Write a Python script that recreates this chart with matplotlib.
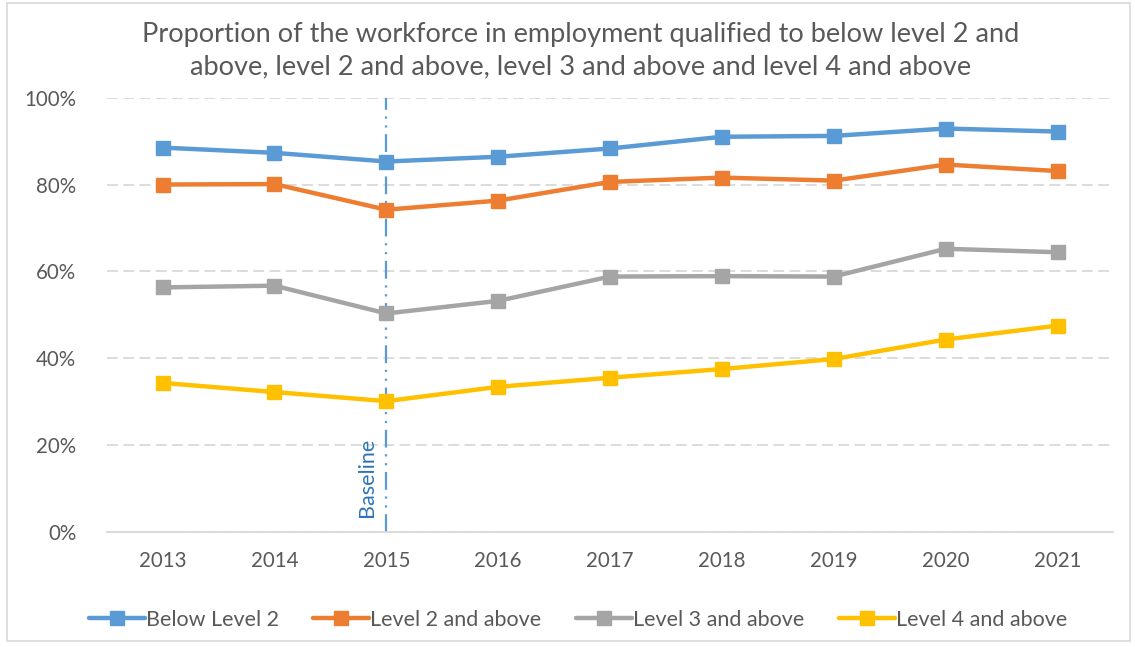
import matplotlib.pyplot as plt
from matplotlib.patches import Rectangle
from matplotlib.ticker import PercentFormatter

plt.rcParams['font.family'] = ['Lato', 'DejaVu Sans']

years = [2013, 2014, 2015, 2016, 2017, 2018, 2019, 2020, 2021]
below_level2 = [88.5, 87.3, 85.3, 86.4, 88.3, 91.0, 91.2, 92.9, 92.2]
level2_above = [80.0, 80.1, 74.2, 76.3, 80.6, 81.6, 80.9, 84.6, 83.1]
level3_above = [56.3, 56.7, 50.3, 53.2, 58.8, 58.9, 58.8, 65.2, 64.4]
level4_above = [34.3, 32.2, 30.1, 33.4, 35.5, 37.5, 39.8, 44.3, 47.5]
series_names = ['Below Level 2', 'Level 2 and above', 'Level 3 and above', 'Level 4 and above']
colors = ['#5B9BD5', '#ED7D31', '#A5A5A5', '#FFC000']
baseline_year = 2015

fig = plt.figure(figsize=(11.35, 6.47), dpi=100)
ax = fig.add_axes([0.094, 0.178, 0.887, 0.671])

for vals, name, c in zip([below_level2, level2_above, level3_above, level4_above], series_names, colors):
    ax.plot(years, vals, color=c, lw=3.2, marker='s', ms=9.5, label=name,
            solid_capstyle='round', zorder=3)

ax.axvline(baseline_year, color='#5B9BD5', lw=1.6, ls=(0, (8, 3, 1, 3, 1, 3)), zorder=2)
ax.text(baseline_year - 0.17, 3.5, 'Baseline', rotation=90, color='#2E75B6',
        fontsize=15.5, ha='center', va='bottom')

ax.set_xlim(years[0] - 0.5, years[-1] + 0.5)
ax.set_ylim(0, 100)
ax.set_xticks(years)
ax.set_yticks(range(0, 101, 20))
ax.yaxis.set_major_formatter(PercentFormatter(decimals=0))
ax.grid(axis='y', color='#D9D9D9', ls=(0, (6, 3)), lw=1.3)
ax.set_axisbelow(True)
for s in ['top', 'right', 'left']:
    ax.spines[s].set_visible(False)
ax.spines['bottom'].set_color('#D9D9D9')
ax.spines['bottom'].set_linewidth(1.3)
ax.tick_params(length=0, labelsize=14.8, labelcolor='#595959', pad=14)
ax.tick_params(axis='y', pad=22)

ax.set_title('Proportion of the workforce in employment qualified to below level 2 and\n'
             'above, level 2 and above, level 3 and above and level 4 and above',
             fontsize=19.5, color='#595959', pad=17, linespacing=1.35, x=0.471)

ax.legend(loc='upper center', bbox_to_anchor=(0.468, -0.135), ncol=4, frameon=False,
          fontsize=15.5, labelcolor='#595959', handlelength=2.6, handletextpad=0.05,
          columnspacing=1.6)

fig.patches.append(Rectangle((0.006, 0.01), 0.99, 0.985, transform=fig.transFigure,
                             fill=False, edgecolor='#D9D9D9', lw=1.2))

fig.savefig('out.png', dpi=100)
